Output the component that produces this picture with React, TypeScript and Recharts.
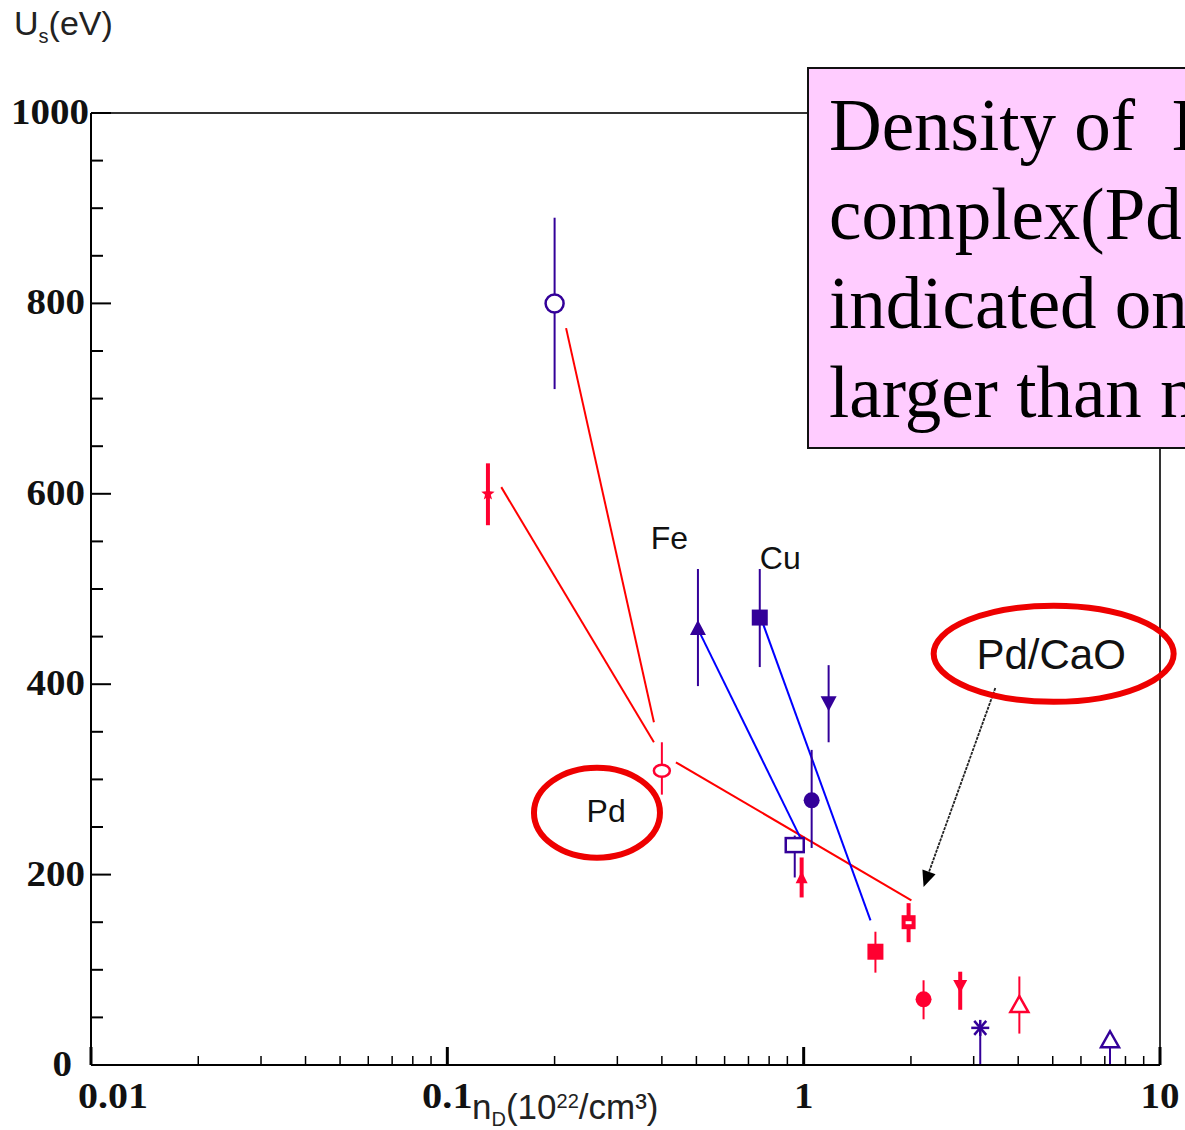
import React from 'react'
import { ScatterChart, Scatter, XAxis, YAxis, ErrorBar, ReferenceLine, ReferenceDot } from 'recharts'

// measured points: density n_D (10^22/cm3) vs screening energy U_s (eV)
const pointX = [0.2, 0.13, 0.4, 0.505, 0.753, 1.175, 1.053, 0.944, 0.987, 1.97, 1.59, 2.17, 2.75, 3.13, 4.03, 7.24]
const pointY = [800, 600, 309, 458, 470, 381, 278, 231, 194, 150, 119, 69, 84, 39, 63, 26]
const errLow = [90, 33, 25, 60, 52, 42, 50, 34, 18, 21, 22, 21, 26, 39, 30, 26]
const errHigh = [90, 32, 30, 63, 51, 39, 53, 10, 24, 20, 21, 20, 14, 0, 30, 0]

// fit lines (start/end)
const fitX1 = [0.2154, 0.1417, 0.438, 0.508, 0.763]
const fitY1 = [774, 607, 318, 456, 467]
const fitX2 = [0.38, 0.38, 2.006, 0.987, 1.54]
const fitY2 = [360, 339, 173, 236, 152]

const xDecades = [0.01, 0.1, 1, 10]
const xDecadeLabels = ['0.01', '0.1', '1', '10']
const yMajor = [0, 200, 400, 600, 800, 1000]

// marker styles per point
const markerKind = ['openCircle', 'star', 'openOval', 'triUp', 'square', 'triDown', 'circle', 'openSquare', 'arrowUp', 'squareBar', 'square', 'circle', 'arrowDown', 'asterisk', 'openTri', 'openTri']
const markerRed = [false, true, true, false, false, false, false, false, true, true, true, true, true, false, true, false]
const errThick = [2, 4, 2, 2, 2, 2, 2, 2, 4, 4, 2, 2, 4, 2, 2, 2]
const fitRed = [true, true, true, false, false]

const BLUE_MARK = '#330099'
const BLUE_LINE = '#0000FF'
const RED = '#FF0030'
const RED_LINE = '#FF0000'

const xMinor = xDecades.slice(0, 3).flatMap(d => [2, 3, 4, 5, 6, 7, 8, 9].map(m => +(d * m).toPrecision(3)))
const xTicks = [...xDecades, ...xMinor].sort((a, b) => a - b)
const yTicks = Array.from({ length: 21 }, (_, i) => i * 50)

function Marker({ cx, cy, kind, color }: any) {
  if (cx == null || cy == null) return null
  switch (kind) {
    case 'openCircle':
      return <circle cx={cx} cy={cy} r={9} fill="#fff" stroke={color} strokeWidth={2.5} />
    case 'openOval':
      return <ellipse cx={cx} cy={cy} rx={8} ry={6} fill="#fff" stroke={color} strokeWidth={2.5} />
    case 'star': {
      const pts: string[] = []
      for (let i = 0; i < 10; i++) {
        const r = i % 2 === 0 ? 7 : 3
        const a = -Math.PI / 2 + (i * Math.PI) / 5
        pts.push(`${cx + r * Math.cos(a)},${cy + r * Math.sin(a)}`)
      }
      return <polygon points={pts.join(' ')} fill={color} />
    }
    case 'triUp':
      return <polygon points={`${cx},${cy - 9} ${cx + 8},${cy + 6} ${cx - 8},${cy + 6}`} fill={color} />
    case 'triDown':
      return <polygon points={`${cx},${cy + 9} ${cx + 8},${cy - 6} ${cx - 8},${cy - 6}`} fill={color} />
    case 'arrowUp':
      return <polygon points={`${cx},${cy - 9} ${cx + 6},${cy + 3} ${cx - 6},${cy + 3}`} fill={color} />
    case 'arrowDown':
      return <polygon points={`${cx},${cy + 8} ${cx + 7},${cy - 5} ${cx - 7},${cy - 5}`} fill={color} />
    case 'square':
      return <rect x={cx - 8} y={cy - 8} width={16} height={16} fill={color} />
    case 'squareBar':
      return (
        <g>
          <rect x={cx - 7} y={cy - 7} width={14} height={14} fill={color} />
          <rect x={cx - 3} y={cy - 1} width={6} height={3} fill="#fff" />
        </g>
      )
    case 'circle':
      return <circle cx={cx} cy={cy} r={8} fill={color} />
    case 'openSquare':
      return <rect x={cx - 9} y={cy - 7} width={18} height={14} fill="#fff" stroke={color} strokeWidth={2.5} />
    case 'openTri':
      return <polygon points={`${cx},${cy - 9} ${cx + 9},${cy + 7} ${cx - 9},${cy + 7}`} fill="#fff" stroke={color} strokeWidth={2.5} />
    case 'asterisk':
      return (
        <g stroke={color} strokeWidth={2.5}>
          <line x1={cx - 9} y1={cy} x2={cx + 9} y2={cy} />
          <line x1={cx - 6} y1={cy - 7} x2={cx + 6} y2={cy + 7} />
          <line x1={cx - 6} y1={cy + 7} x2={cx + 6} y2={cy - 7} />
          <line x1={cx} y1={cy - 8} x2={cx} y2={cy + 8} />
        </g>
      )
    default:
      return null
  }
}

const XTick = (props: any) => {
  const { x, y, payload } = props
  const v = payload.value
  const idx = xDecades.indexOf(v)
  const major = idx >= 0
  const label = major ? xDecadeLabels[idx] : ''
  return (
    <g>
      <line x1={x} x2={x} y1={y} y2={y - (major ? 18 : 9)} stroke="#000" strokeWidth={major ? 3 : 1.5} />
      {major && (
        <text
          x={idx === 0 ? x - 13 : x}
          y={y + 43}
          textAnchor={idx === 0 ? 'start' : 'middle'}
          fontFamily="'Liberation Serif', serif"
          fontWeight="bold"
          fontSize={36}
          textLength={label.length * 19.5 - (label.includes('.') ? 8 : 0)}
          lengthAdjust="spacingAndGlyphs"
          fill="#111"
        >
          {label}
        </text>
      )}
    </g>
  )
}

const YTick = (props: any) => {
  const { x, y, payload } = props
  const v = payload.value
  const major = yMajor.includes(v)
  const s = String(v)
  return (
    <g>
      <line x1={x} x2={x + (major ? 20 : 12)} y1={y} y2={y} stroke="#000" strokeWidth={2} />
      {major && (
        <text
          x={v === 0 ? x - 19 : v === 1000 ? x - 2 : x - 6}
          y={y + 11}
          textAnchor="end"
          fontFamily="'Liberation Serif', serif"
          fontWeight="bold"
          fontSize={36}
          textLength={s.length * 19.5}
          lengthAdjust="spacingAndGlyphs"
          fill="#111"
        >
          {s}
        </text>
      )}
    </g>
  )
}

const Arrow = (props: any) => {
  const { x1, y1, x2, y2 } = props
  const ang = Math.atan2(y2 - y1, x2 - x1)
  const L = 16
  const W = 7
  const bx = x2 - L * Math.cos(ang)
  const by = y2 - L * Math.sin(ang)
  const px = -Math.sin(ang) * W
  const py = Math.cos(ang) * W
  return (
    <g>
      <line x1={x1} y1={y1} x2={bx} y2={by} stroke="#222" strokeWidth={1.8} strokeDasharray="3 1" />
      <polygon points={`${x2},${y2} ${bx + px},${by + py} ${bx - px},${by - py}`} fill="#000" />
    </g>
  )
}

const ellipseShape = (rx: number, ry: number) => (p: any) => (
  <ellipse cx={p.cx} cy={p.cy} rx={rx} ry={ry} fill="none" stroke="#EE0000" strokeWidth={6} />
)

const textShape = (txt: string, size: number) => (p: any) => (
  <text
    x={p.cx}
    y={p.cy}
    textAnchor="middle"
    dominantBaseline="central"
    fontFamily="'Liberation Sans', Arial, sans-serif"
    fontSize={size}
    fill="#111"
  >
    {txt}
  </text>
)

export default function App() {
  const points = pointX.map((x, i) => ({ x, y: pointY[i], err: [errLow[i], errHigh[i]] }))

  return (
    <div style={{ position: 'absolute', left: 0, top: 0, width: 1185, height: 1130, overflow: 'hidden', background: '#fff' }}>
      <ScatterChart width={1185} height={1130} margin={{ top: 113, right: 25, left: 31, bottom: 25 }}>
        <XAxis
          type="number"
          dataKey="x"
          scale="log"
          domain={[0.01, 10]}
          allowDataOverflow
          ticks={xTicks}
          interval={0}
          tick={<XTick />}
          tickSize={0}
          tickMargin={0}
          tickLine={false}
          axisLine={{ stroke: '#000', strokeWidth: 2 }}
          height={40}
        />
        <YAxis
          type="number"
          dataKey="y"
          domain={[0, 1000]}
          ticks={yTicks}
          interval={0}
          tick={<YTick />}
          tickSize={0}
          tickMargin={0}
          tickLine={false}
          axisLine={{ stroke: '#000', strokeWidth: 2 }}
          width={60}
        />
        <ReferenceLine y={1000} stroke="#333" strokeWidth={2} />
        <ReferenceLine x={10} stroke="#333" strokeWidth={2} />

        {fitX1.map((x1, i) => (
          <ReferenceLine
            key={`fit-${i}`}
            segment={[{ x: x1, y: fitY1[i] }, { x: fitX2[i], y: fitY2[i] }]}
            stroke={fitRed[i] ? RED_LINE : BLUE_LINE}
            strokeWidth={2}
            ifOverflow="visible"
          />
        ))}

        {points.map((pt, i) => {
          const color = markerRed[i] ? RED : BLUE_MARK
          return (
            <Scatter
              key={`pt-${i}`}
              data={[pt]}
              isAnimationActive={false}
              shape={(p: any) => <Marker cx={p.cx} cy={p.cy} kind={markerKind[i]} color={color} />}
            >
              <ErrorBar dataKey="err" direction="y" width={0} stroke={color} strokeWidth={errThick[i]} />
            </Scatter>
          )
        })}

        <ReferenceLine segment={[{ x: 3.45, y: 396 }, { x: 2.17, y: 187 }]} shape={<Arrow />} ifOverflow="visible" />

        <ReferenceDot x={0.263} y={265} r={1} shape={ellipseShape(63, 45)} />
        <ReferenceDot x={5.03} y={432} r={1} shape={ellipseShape(120, 48)} />
        <ReferenceDot x={0.279} y={267} r={1} shape={textShape('Pd', 32)} />
        <ReferenceDot x={4.95} y={431} r={1} shape={textShape('Pd/CaO', 42)} />
        <ReferenceDot x={0.42} y={554} r={1} shape={textShape('Fe', 32)} />
        <ReferenceDot x={0.86} y={533} r={1} shape={textShape('Cu', 32)} />
      </ScatterChart>

      <div
        style={{
          position: 'absolute',
          left: 14,
          top: 4,
          fontFamily: "'Liberation Sans', Arial, sans-serif",
          fontSize: 34,
          color: '#222',
          whiteSpace: 'nowrap',
        }}
      >
        U<sub style={{ fontSize: 20 }}>s</sub>(eV)
      </div>

      <div
        style={{
          position: 'absolute',
          left: 472,
          top: 1085,
          fontFamily: "'Liberation Sans', Arial, sans-serif",
          fontSize: 35,
          lineHeight: '32px',
          color: '#222',
          whiteSpace: 'nowrap',
        }}
      >
        n<sub style={{ fontSize: 20, verticalAlign: '-7px' }}>D</sub>(10<sup style={{ fontSize: 20, verticalAlign: '11px' }}>22</sup>/cm³)
      </div>

      <div
        style={{
          position: 'absolute',
          left: 807,
          top: 67,
          width: 520,
          height: 382,
          background: '#FFCCFF',
          border: '2px solid #111',
          boxSizing: 'border-box',
          paddingLeft: 20,
          paddingTop: 12,
          fontFamily: "'Liberation Serif', 'Times New Roman', serif",
          fontSize: 73,
          lineHeight: '89px',
          color: '#000',
          whiteSpace: 'nowrap',
        }}
      >
        <div>Density of&nbsp; D</div>
        <div>complex(Pd</div>
        <div>indicated on</div>
        <div>larger than n</div>
      </div>
    </div>
  )
}
